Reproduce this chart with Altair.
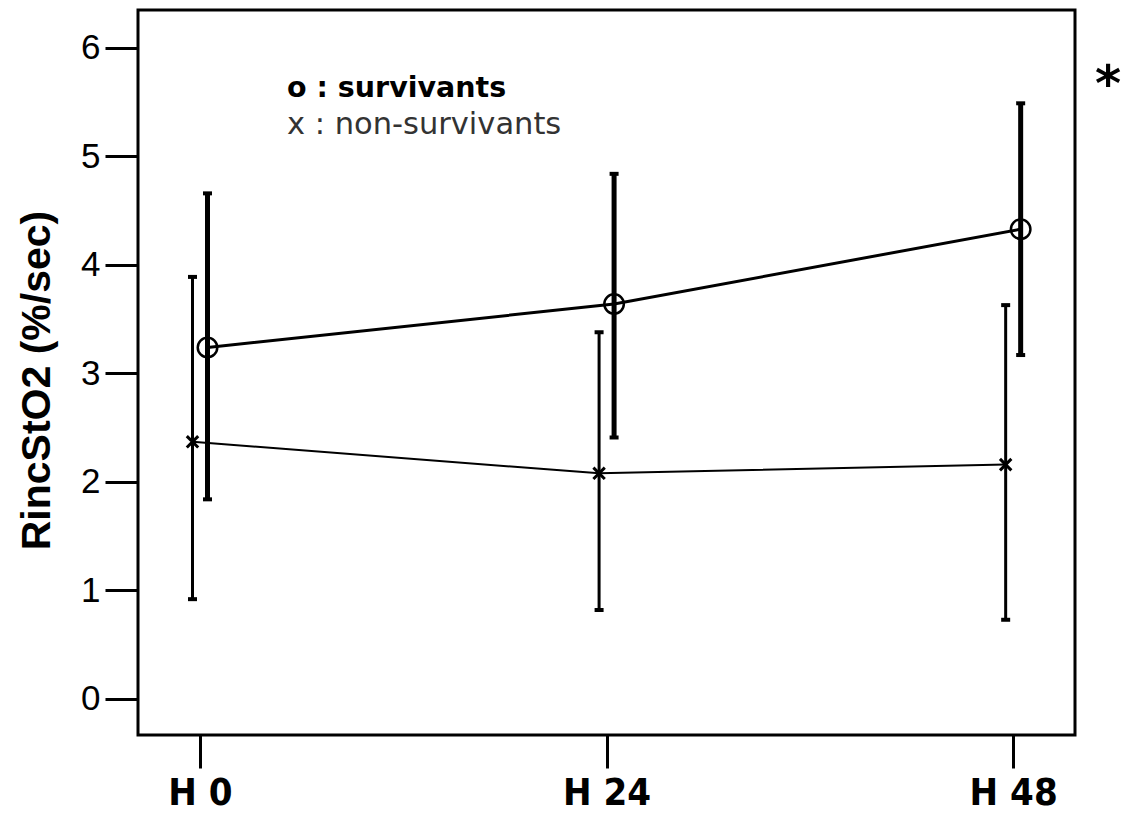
import altair as alt
import pandas as pd

hours = [0, 24, 48]
surv_mean = [3.24, 3.64, 4.33]
surv_lo = [1.84, 2.41, 3.17]
surv_hi = [4.66, 4.84, 5.49]
non_mean = [2.37, 2.08, 2.16]
non_lo = [0.92, 0.82, 0.73]
non_hi = [3.89, 3.38, 3.63]
y_ticks = [0, 1, 2, 3, 4, 5, 6]

surv = pd.DataFrame({"hour": hours, "mean": surv_mean, "lo": surv_lo, "hi": surv_hi})
non = pd.DataFrame({"hour": hours, "mean": non_mean, "lo": non_lo, "hi": non_hi})

xscale = alt.Scale(domain=[-3.66, 51.65], nice=False, zero=False)
yscale = alt.Scale(domain=[-0.332, 6.35], nice=False, zero=False)

label_expr = "'H ' + datum.value"

xaxis = alt.Axis(values=hours, labelExpr=label_expr, grid=False, domain=False,
                 tickSize=33, tickWidth=3, tickColor="black",
                 labelFont="Liberation Sans Narrow, DejaVu Sans Condensed, Arial Narrow, sans-serif",
                 labelFontWeight="bold", labelFontSize=38, labelColor="black",
                 labelPadding=6, title=None)
yaxis = alt.Axis(values=y_ticks, format="d", grid=False, domain=False, tickSize=33, tickWidth=3,
                 tickColor="black", labelFont="Liberation Sans, Arial, sans-serif",
                 labelFontSize=35, labelColor="black", labelPadding=5,
                 title="RincStO2 (%/sec)", titleFont="Liberation Sans, Arial, sans-serif",
                 titleFontSize=41, titleFontWeight="bold", titleColor="black",
                 titleX=-101, titleY=370, titleAlign="center", titleBaseline="middle",
                 titleAngle=270)

X = alt.X("hour:Q", scale=xscale, axis=xaxis)
Y = alt.Y("mean:Q", scale=yscale, axis=yaxis)

OFF_S = 7.5
OFF_N = -7.5

def group_layers(df, off, line_w, bar_w, marker):
    base = alt.Chart(df)
    line = base.mark_line(color="black", strokeWidth=line_w, xOffset=off).encode(x=X, y=Y)
    bars = base.mark_rule(color="black", strokeWidth=bar_w, xOffset=off).encode(
        x=alt.X("hour:Q", scale=xscale), y=alt.Y("lo:Q", scale=yscale), y2="hi:Q")
    cap_lo = base.mark_tick(color="black", orient="horizontal", size=9, thickness=4,
                            xOffset=off, opacity=1).encode(
        x=alt.X("hour:Q", scale=xscale), y=alt.Y("lo:Q", scale=yscale))
    cap_hi = base.mark_tick(color="black", orient="horizontal", size=9, thickness=4,
                            xOffset=off, opacity=1).encode(
        x=alt.X("hour:Q", scale=xscale), y=alt.Y("hi:Q", scale=yscale))
    return [line, bars, cap_lo, cap_hi, marker.encode(x=alt.X("hour:Q", scale=xscale),
                                                       y=alt.Y("mean:Q", scale=yscale))]

surv_marker = alt.Chart(surv).mark_point(shape="circle", size=380, filled=False,
                                          stroke="black", strokeWidth=2.5, opacity=1,
                                          xOffset=OFF_S)
non_marker = alt.Chart(non).mark_point(shape="M-1,-1L1,1M-1,1L1,-1", size=130,
                                        filled=False, stroke="black", strokeWidth=3,
                                        opacity=1, xOffset=OFF_N)

layers = []
layers += group_layers(non, OFF_N, 2, 3, non_marker)
layers += group_layers(surv, OFF_S, 3, 5, surv_marker)

legend_df = pd.DataFrame({"t": ["o : survivants"]})
legend1 = alt.Chart(legend_df).mark_text(
    align="left", baseline="middle", font="DejaVu Sans, sans-serif", fontSize=28.5,
    fontWeight="bold", color="black").encode(
    text="t:N", x=alt.value(149), y=alt.value(78))
legend_df2 = pd.DataFrame({"t": ["x : non-survivants"]})
legend2 = alt.Chart(legend_df2).mark_text(
    align="left", baseline="middle", font="DejaVu Sans, sans-serif", fontSize=30.5,
    fontWeight="normal", color="#333333").encode(
    text="t:N", x=alt.value(149), y=alt.value(115))
star_df = pd.DataFrame({"t": ["*"]})
star = alt.Chart(star_df).mark_text(
    align="center", baseline="middle", font="DejaVu Sans, sans-serif", fontSize=50,
    fontWeight="bold", color="black").encode(
    text="t:N", x=alt.value(970), y=alt.value(76))

chart = alt.layer(*layers, legend1, legend2, star).properties(
    width=937, height=725,
    autosize=alt.AutoSizeParams(type="none"),
    padding={"left": 130, "top": 2, "right": 50, "bottom": 78},
).configure(background="white",
            view=alt.ViewConfig(stroke="black", strokeWidth=3))

chart.save("out.html", embed_options={"renderer": "svg", "actions": False})
